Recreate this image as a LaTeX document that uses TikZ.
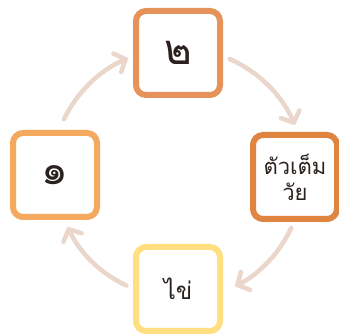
\documentclass[tikz,border=0pt]{standalone}
\usepackage{fontspec}
\newfontfamily\thaifont[Script=Thai]{Loma}
\usetikzlibrary{arrows.meta,calc}
\definecolor{cTop}{HTML}{E5935A}
\definecolor{cRight}{HTML}{E08442}
\definecolor{cLeft}{HTML}{F5A95E}
\definecolor{cBottom}{HTML}{FFDF80}
\definecolor{cArrow}{HTML}{EAD6CA}
\definecolor{cText}{HTML}{2B2220}
\tikzset{
  cyclebox/.style={draw=#1, line width=6pt, rounded corners=10pt, fill=white,
    minimum width=84pt, minimum height=84pt, inner sep=0pt,
    align=center, text=cText, font=\thaifont\fontsize{22}{26}\selectfont},
  digit/.style={font=\thaifont\fontsize{42}{42}\selectfont},
  cyclearrow/.style={draw=cArrow, line width=4.5pt, line cap=round,
    -{Straight Barb[length=9pt, width=20pt, line cap=round]}}
}
\begin{document}
\begin{tikzpicture}[x=1pt,y=1pt]
\useasboundingbox (0,0) rectangle (339,336);
\coordinate (c) at (178,161);
\node[cyclebox=cTop, digit] (two) at (178,283) {๒};
\node[cyclebox=cRight] (adult) at (295,159) {ตัวเต็ม\\วัย};
\node[cyclebox=cBottom, font=\thaifont\fontsize{24}{26}\selectfont] (egg) at (178,47) {ไข่};
\node[cyclebox=cLeft, digit] (one) at (55,161) {๑};
\draw[cyclearrow] ($(c)+(66:127)$) arc[start angle=66, end angle=23, radius=127];
\draw[cyclearrow] ($(c)+(-25:125)$) arc[start angle=-25, end angle=-63, radius=125];
\draw[cyclearrow] ($(c)+(-115:122)$) arc[start angle=-115, end angle=-155, radius=122];
\draw[cyclearrow] ($(c)+(154:127)$) arc[start angle=154, end angle=113, radius=127];
\end{tikzpicture}
\end{document}
